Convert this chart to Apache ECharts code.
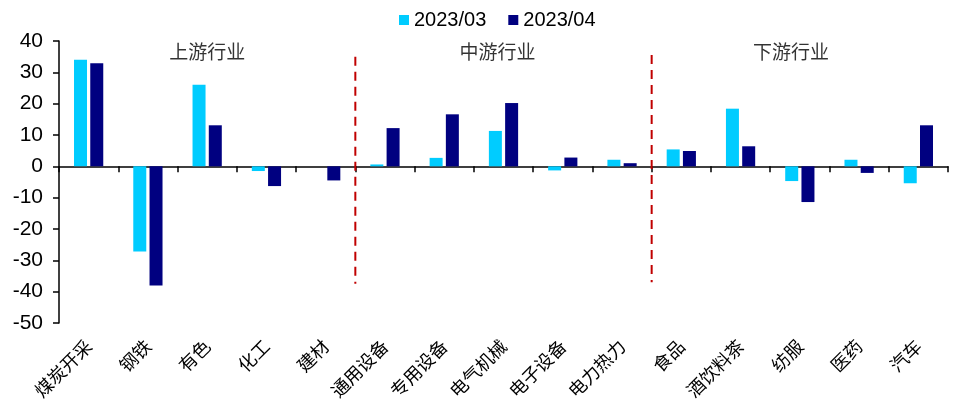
<!DOCTYPE html>
<html>
<head>
<meta charset="utf-8">
<script src="https://cdn.jsdelivr.net/npm/echarts@6/dist/echarts.min.js"></script>
<style>html,body{margin:0;padding:0;background:#fff}#c{width:960px;height:410px}</style>
</head>
<body>
<div id="c"></div>
<script>
var categories = ['煤炭开采','钢铁','有色','化工','建材','通用设备','专用设备','电气机械','电子设备','电力热力','食品','酒饮料茶','纺服','医药','汽车'];
var seriesNames = ['2023/03','2023/04'];
var s03 = [34.0,-27.2,26.0,-1.5,0,0.6,2.7,11.3,-1.3,2.1,5.4,18.4,-4.7,2.1,-5.4];
var s04 = [32.9,-38.0,13.1,-6.3,-4.5,12.2,16.6,20.2,2.8,1.0,4.9,6.4,-11.4,-2.1,13.1];
var yTicks = {min:-50, max:40, interval:10};
var sectionNames = ['上游行业','中游行业','下游行业'];
var sectionX = [2.5, 7.4, 12.35];
var sectionY = [36.5, 36.5, 36.5];
var dividerX = [5, 10];
var dividerTop = [35, 35.5];
var dividerBottom = [-37.5, -37];

var chart = echarts.init(document.getElementById('c'), null, {renderer:'canvas'});
var cjk = '"Noto Sans CJK SC", sans-serif';
var latin = '"Liberation Sans", Arial, sans-serif';

var series = [
  {name:seriesNames[0], type:'bar', data:s03, xAxisIndex:0, yAxisIndex:0, barWidth:13, barGap:'25%', itemStyle:{color:'#00CCFF'}},
  {name:seriesNames[1], type:'bar', data:s04, xAxisIndex:0, yAxisIndex:0, barWidth:13, barGap:'25%', itemStyle:{color:'#000080'}},
  {type:'scatter', xAxisIndex:2, yAxisIndex:0, symbolSize:0, silent:true,
   data: sectionNames.map(function(n,i){return {value:[sectionX[i], sectionY[i]], name:n};}),
   label:{show:true, position:'inside', formatter:'{b}', color:'#000', fontSize:19, fontFamily:cjk}}
];
dividerX.forEach(function(x,i){
  series.push({type:'line', xAxisIndex:2, yAxisIndex:0, symbol:'none', silent:true, z:5,
    data:[[x, dividerTop[i]],[x, dividerBottom[i]]],
    lineStyle:{color:'#C00000', width:2, type:[9,6]}});
});

chart.setOption({
  animation:false,
  legend:{data:seriesNames, top:5, left:394, itemWidth:10, itemHeight:10, itemGap:22,
    textStyle:{fontSize:20, color:'#000', fontFamily:latin}, icon:'rect'},
  grid:{left:59, right:12, top:41, bottom:87, containLabel:false},
  xAxis:[
    {type:'category', data:categories, position:'bottom',
     axisLine:{show:false, onZero:false}, axisTick:{show:false},
     axisLabel:{rotate:45, margin:20, interval:0, fontSize:18, color:'#000', fontFamily:cjk}},
    {type:'category', data:categories, position:'bottom',
     axisLine:{show:true, onZero:true, lineStyle:{color:'#000', width:1.5}},
     axisTick:{show:true, length:6, lineStyle:{color:'#000', width:1.5}, interval:0},
     axisLabel:{show:false}},
    {type:'value', min:0, max:categories.length, show:false}
  ],
  yAxis:[{type:'value', min:yTicks.min, max:yTicks.max, interval:yTicks.interval,
    axisLine:{show:true, lineStyle:{color:'#000', width:1.5}},
    axisTick:{show:true, length:6, lineStyle:{color:'#000', width:1.5}},
    splitLine:{show:false},
    axisLabel:{fontSize:21, color:'#000', fontFamily:latin, margin:16}}],
  series:series
});
</script>
</body>
</html>
